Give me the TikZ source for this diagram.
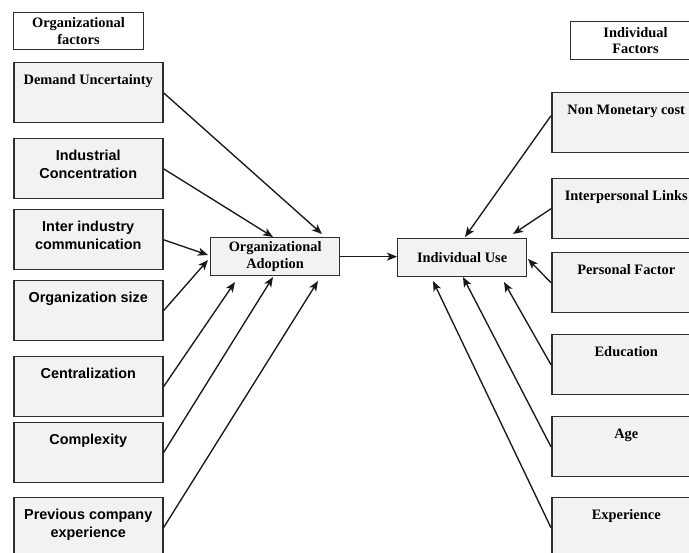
\documentclass[tikz,border=0pt]{standalone}
\usepackage{fontspec}
\setmainfont{Liberation Serif}
\newfontfamily\arialf{Liberation Sans}
\usetikzlibrary{arrows.meta}
\definecolor{boxfill}{HTML}{F2F2F2}
\definecolor{boxline}{HTML}{2E2E2E}
\newcommand\facbox[1]{\parbox[t][60pt][t]{149pt}{\centering\fontsize{14.4}{18}\selectfont\bfseries\rule{0pt}{22pt}#1}}
\tikzset{
  fac/.style={draw=boxline, fill=boxfill, line width=1.5pt, inner sep=0pt, anchor=north west},
  ttl/.style={draw=boxline, fill=white, line width=1pt, inner sep=0pt, minimum width=130pt, minimum height=37pt,
    anchor=north west, align=center, font=\bfseries\fontsize{14.4}{16.7}\selectfont},
  ctr/.style={draw=boxline, fill=boxfill, line width=1.3pt, inner sep=0pt, minimum width=129pt, minimum height=38pt,
    anchor=north west, align=center, font=\bfseries\fontsize{14.4}{17}\selectfont},
  arr/.style={-{Stealth[length=10pt,width=8pt,inset=2.5pt]}, line width=1.35pt, draw=black!90}
}
\begin{document}
\begin{tikzpicture}[x=1pt,y=-1pt]
\useasboundingbox (0,0) rectangle (689,553);
\fill[white] (0,0) rectangle (689,553);
\clip (0,0) rectangle (689,553);
% titles
\node[ttl] (tl) at (13,12) {Organizational\\factors};
\node[ttl, minimum height=38pt] (tr) at (570,21) {Individual\\Factors};
% left factors
\node[fac] (du) at (13,62)  {\facbox{Demand Uncertainty}};
\node[fac] (ic) at (13,138) {\facbox{\arialf Industrial\\Concentration}};
\node[fac] (ii) at (13,209) {\facbox{\arialf Inter industry\\communication}};
\node[fac] (os) at (13,280) {\facbox{\arialf Organization size}};
\node[fac] (ce) at (13,356) {\facbox{\arialf Centralization}};
\node[fac] (co) at (13,422) {\facbox{\arialf Complexity}};
\node[fac] (pc) at (13,497) {\facbox{\arialf Previous company\\experience}};
% right factors
\node[fac] (nm) at (551,92)  {\facbox{Non Monetary cost}};
\node[fac] (il) at (551,178) {\facbox{Interpersonal Links}};
\node[fac] (pf) at (551,252) {\facbox{Personal Factor}};
\node[fac] (ed) at (551,334) {\facbox{Education}};
\node[fac] (ag) at (551,416) {\facbox{Age}};
\node[fac] (ex) at (551,497) {\facbox{Experience}};
% centre
\node[ctr] (oa) at (210,237) {Organizational\\Adoption};
\node[ctr] (iu) at (397,238) {Individual Use};
% arrows into OA
\draw[arr] (du.east) -- ([shift={(112,-3)}]oa.north west);
\draw[arr] (ic.east) -- ([shift={(63,0)}]oa.north west);
\draw[arr] (ii.east) -- ([shift={(-2,18)}]oa.north west);
\draw[arr] (os.east) -- ([shift={(-2,23)}]oa.north west);
\draw[arr] (ce.east) -- ([shift={(25,45)}]oa.north west);
\draw[arr] (co.east) -- ([shift={(63,40)}]oa.north west);
\draw[arr] (pc.east) -- ([shift={(108,44)}]oa.north west);
% OA -> IU
\draw[arr] (oa.east) -- (iu.west |- oa.east);
% arrows into IU
\draw[arr] ([yshift=7pt]nm.west) -- ([shift={(68,-1)}]iu.north west);
\draw[arr] (il.west) -- ([shift={(116,-4)}]iu.north west);
\draw[arr] (pf.west) -- ([shift={(131,21)}]iu.north west);
\draw[arr] (ed.west) -- ([shift={(107,44)}]iu.north west);
\draw[arr] (ag.west) -- ([shift={(66,39)}]iu.north west);
\draw[arr] (ex.west) -- ([shift={(36,43)}]iu.north west);
\end{tikzpicture}
\end{document}
